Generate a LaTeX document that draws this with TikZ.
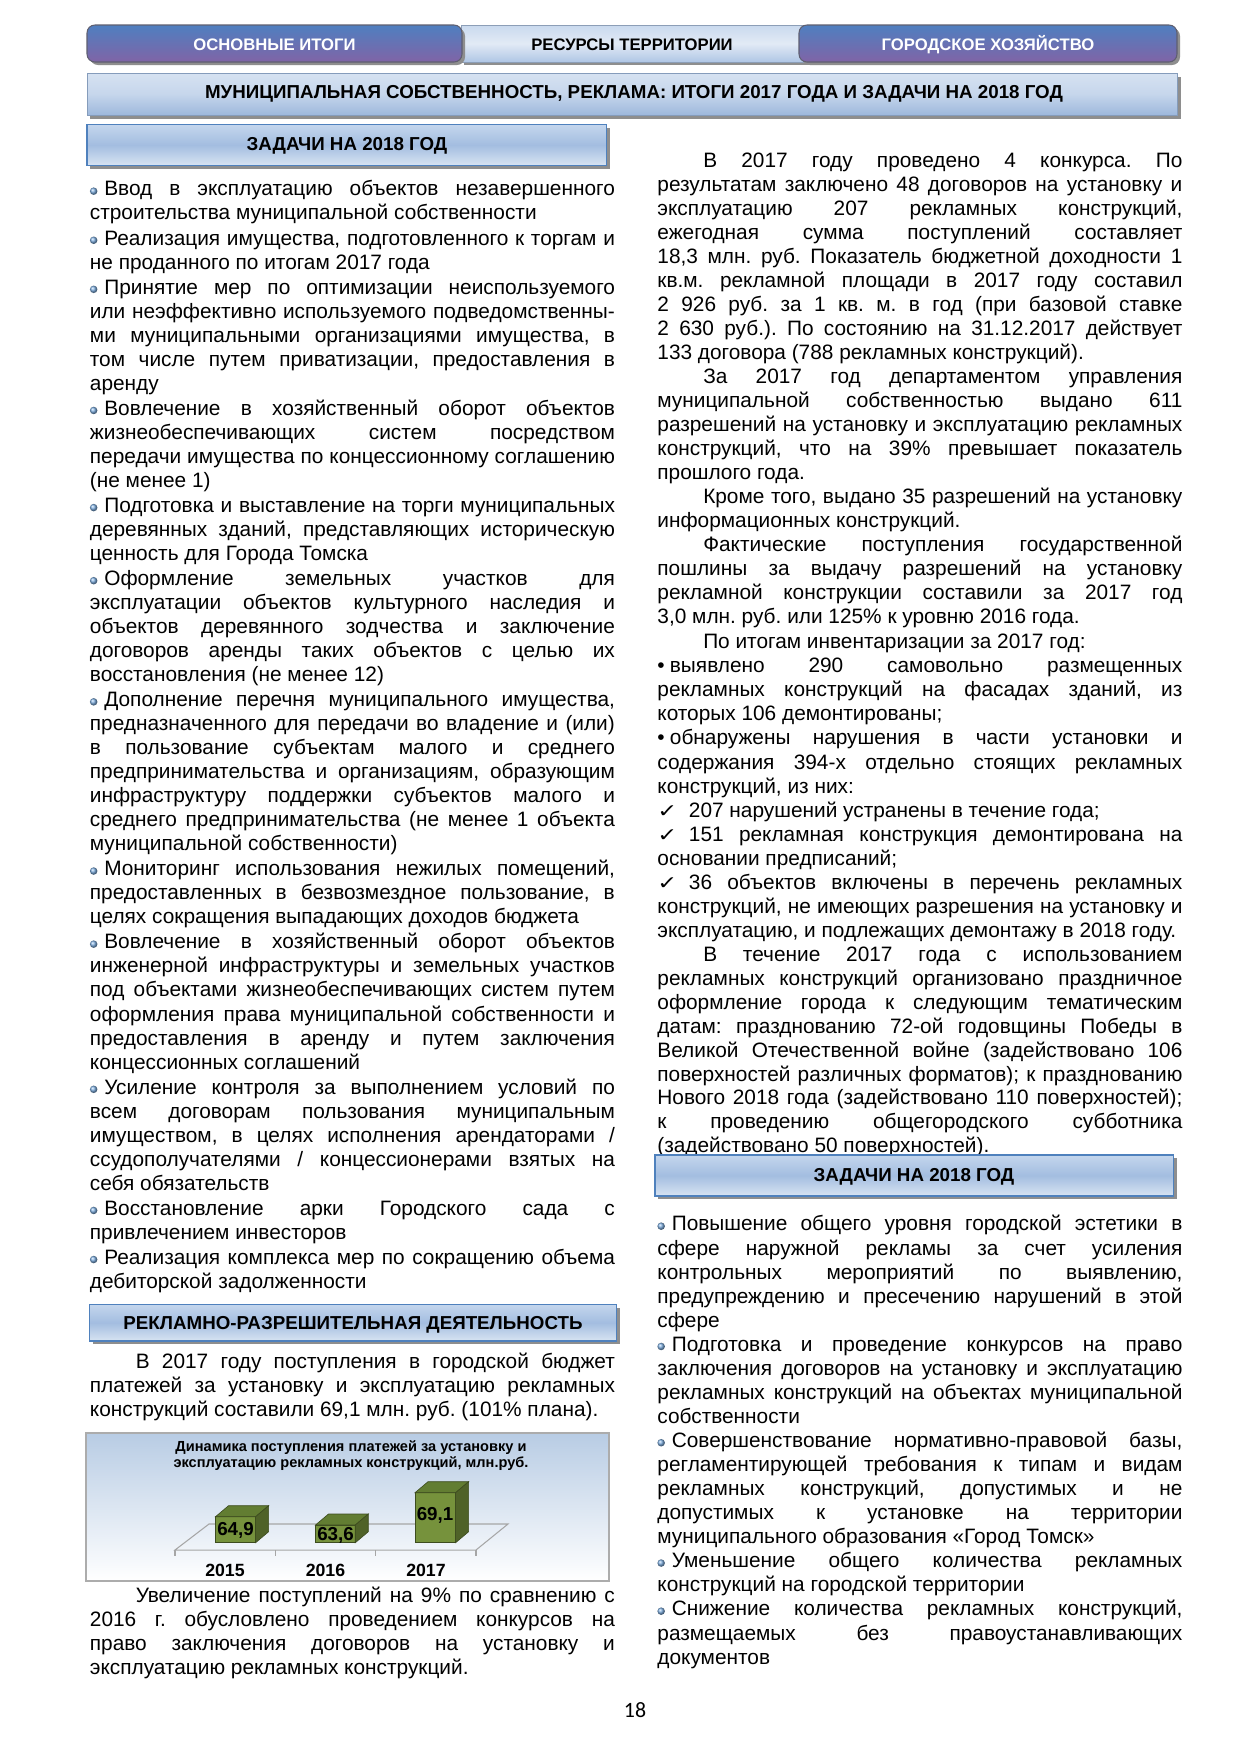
\documentclass[tikz,border=0pt]{standalone}
\usepackage{fontspec}
\usepackage{graphicx}
\setmainfont{Liberation Sans}
\newfontfamily\djv{DejaVu Sans}
\newfontfamily\calfont{Carlito}
\definecolor{tabtop}{HTML}{4F7FC0}
\definecolor{tabbot}{HTML}{8064A6}
\definecolor{tabedge}{HTML}{5F5F70}
\definecolor{shgray}{HTML}{8E8E8E}
\definecolor{lbtop}{HTML}{C9D9EE}
\definecolor{lbmid}{HTML}{E2EAF5}
\definecolor{lbbot}{HTML}{AFC6E5}
\definecolor{tttop}{HTML}{D6E2F1}
\definecolor{ttmid}{HTML}{C6D6EC}
\definecolor{ttbot}{HTML}{9DB8DC}
\definecolor{sbtop}{HTML}{C4D6ED}
\definecolor{sbmid}{HTML}{A3BDE0}
\definecolor{sbbot}{HTML}{D8E4F2}
\definecolor{sbedge}{HTML}{4F81BD}
\definecolor{bulc}{HTML}{7EAEE0}
\definecolor{chtop}{HTML}{B8CCE4}
\definecolor{gfront}{HTML}{76923C}
\definecolor{gtop}{HTML}{627D32}
\definecolor{gside}{HTML}{4F6228}
\definecolor{gedge}{HTML}{3D4C1F}
\newlength\ind
\setlength\ind{22pt}
\newcommand\topstrut{\rule{0pt}{10pt}}
\newcommand\bodyfont[1]{\fontsize{10}{#1}\selectfont\lineskiplimit=-20pt\relax\lineskip=0pt\relax\tolerance=10000\relax\hyphenpenalty=10000\relax\exhyphenpenalty=10000\relax\frenchspacing\spaceskip=0.278em plus 3em minus 0.08em\relax\xspaceskip=\spaceskip\parskip=0pt\relax\parindent=0pt\relax}
\newcommand\bul{\tikz[baseline={(0pt,-2.3pt)}]\shade[ball color=bulc] (0pt,0pt) circle (1.8pt);\hspace{3.3pt}}
\newcommand\rbul{•\hspace{2.5pt}}
\newcommand\chk{\scalebox{1.15}[0.9]{\djv\fontsize{10}{10}\selectfont ✓}\hspace{5.5pt}}
\newcommand\gbar[3]{%
  \filldraw[fill=gfront,draw=gedge,line width=0.3pt] (#1,#3) rectangle (#2,1542.7);
  \filldraw[fill=gtop,draw=gedge,line width=0.3pt] (#1,#3) -- (#2,#3) -- ++(13,-11) -- ++({#1-#2},0) -- cycle;
  \filldraw[fill=gside,draw=gedge,line width=0.3pt] (#2,#3) -- ++(13,-11) -- ++(0,{1542.7-#3}) -- (#2,1542.7) -- cycle;
}
\tikzset{
  txt/.style={anchor=north west, inner sep=0pt, text width=252pt, align=justify},
  tabtxt/.style={inner sep=0pt, font=\bfseries\fontsize{8}{9}\selectfont},
  headtxt/.style={inner sep=0pt, font=\bfseries\fontsize{9}{10}\selectfont},
  subbox/.style={top color=sbtop, bottom color=sbbot, middle color=sbmid, draw=sbedge, line width=0.8pt},
  valtxt/.style={inner sep=0pt, font=\bfseries\fontsize{9}{10}\selectfont},
  yeartxt/.style={inner sep=0pt, font=\bfseries\fontsize{8.5}{10}\selectfont}
}
\begin{document}
\begin{tikzpicture}[x=0.48pt,y=-0.48pt]
\useasboundingbox (0,0) rectangle (1240,1754);
\fill[white] (0,0) rectangle (1240,1754);

% ---------- header tabs ----------
\fill[shgray] (464,28) rectangle (818,65);
\shade[top color=lbtop, bottom color=lbbot, middle color=lbmid, draw=lbbot!80!black, line width=0.4pt] (461,25) rectangle (815,62);
\fill[shgray, rounded corners=3.8pt] (90,28) rectangle (465,65);
\shade[top color=tabtop, bottom color=tabbot, rounded corners=3.8pt, draw=tabedge, line width=0.5pt] (87,25) rectangle (462,62);
\fill[shgray, rounded corners=3.8pt] (802,28) rectangle (1180,65);
\shade[top color=tabtop, bottom color=tabbot, rounded corners=3.8pt, draw=tabedge, line width=0.5pt] (799,25) rectangle (1177,62);
\node[tabtxt, text=white] (tab1) at (274.5,44.5) {ОСНОВНЫЕ ИТОГИ};
\node[tabtxt] (tab2) at (632,44.5) {РЕСУРСЫ ТЕРРИТОРИИ};
\node[tabtxt, text=white] (tab3) at (988,44.5) {ГОРОДСКОЕ ХОЗЯЙСТВО};

% ---------- title bar ----------
\fill[shgray] (90,77) rectangle (1181,119);
\shade[top color=tttop, bottom color=ttbot, middle color=ttmid, draw=ttbot!85!black, line width=0.4pt] (87,73) rectangle (1177,115);
\node[headtxt] (title) at (634,93.5) {МУНИЦИПАЛЬНАЯ СОБСТВЕННОСТЬ, РЕКЛАМА: ИТОГИ 2017 ГОДА И ЗАДАЧИ НА 2018 ГОД};

% ---------- subtitle left ----------
\fill[shgray] (90,128) rectangle (610,169);
\shade[subbox] (87,124.5) rectangle (606.5,165.5);
\node[headtxt] (sub1) at (347,145.5) {ЗАДАЧИ НА 2018 ГОД};

% ---------- left column, tasks ----------
\node[txt] (leftA) at (89.5,174.7) {\bodyfont{11.53pt}\parskip=0.5pt\relax\topstrut\bul Ввод в эксплуатацию объектов незавершенного\linebreak
строительства муниципальной собственности\par
\bul Реализация имущества, подготовленного к торгам и\linebreak
не проданного по итогам 2017 года\par
\bul Принятие мер по оптимизации неиспользуемого\linebreak
или неэффективно используемого подведомственны-\linebreak
ми муниципальными организациями имущества, в\linebreak
том числе путем приватизации, предоставления в\linebreak
аренду\par
\bul Вовлечение в хозяйственный оборот объектов\linebreak
жизнеобеспечивающих систем посредством\linebreak
передачи имущества по концессионному соглашению\linebreak
(не менее 1)\par
\bul Подготовка и выставление на торги муниципальных\linebreak
деревянных зданий, представляющих историческую\linebreak
ценность для Города Томска\par
\bul Оформление земельных участков для\linebreak
эксплуатации объектов культурного наследия и\linebreak
объектов деревянного зодчества и заключение\linebreak
договоров аренды таких объектов с целью их\linebreak
восстановления (не менее 12)\par
\bul Дополнение перечня муниципального имущества,\linebreak
предназначенного для передачи во владение и (или)\linebreak
в пользование субъектам малого и среднего\linebreak
предпринимательства и организациям, образующим\linebreak
инфраструктуру поддержки субъектов малого и\linebreak
среднего предпринимательства (не менее 1 объекта\linebreak
муниципальной собственности)\par
\bul Мониторинг использования нежилых помещений,\linebreak
предоставленных в безвозмездное пользование, в\linebreak
целях сокращения выпадающих доходов бюджета\par
\bul Вовлечение в хозяйственный оборот объектов\linebreak
инженерной инфраструктуры и земельных участков\linebreak
под объектами жизнеобеспечивающих систем путем\linebreak
оформления права муниципальной собственности и\linebreak
предоставления в аренду и путем заключения\linebreak
концессионных соглашений\par
\bul Усиление контроля за выполнением условий по\linebreak
всем договорам пользования муниципальным\linebreak
имуществом, в целях исполнения арендаторами /\linebreak
ссудополучателями / концессионерами взятых на\linebreak
себя обязательств\par
\bul Восстановление арки Городского сада с\linebreak
привлечением инвесторов\par
\bul Реализация комплекса мер по сокращению объема\linebreak
дебиторской задолженности\par};

% ---------- left: advertising section ----------
\fill[shgray] (92.5,1307.5) rectangle (619.5,1344);
\shade[subbox] (89.5,1304.5) rectangle (616.5,1341);
\node[headtxt] (sub3) at (353,1324.5) {РЕКЛАМНО-РАЗРЕШИТЕЛЬНАЯ ДЕЯТЕЛЬНОСТЬ};

\node[txt] (leftB) at (89.5,1347.2) {\bodyfont{11.5pt}\topstrut\hspace*{\ind}В 2017 году поступления в городской бюджет\linebreak
платежей за установку и эксплуатацию рекламных\linebreak
конструкций составили 69,1 млн. руб. (101\% плана).\par};

% ---------- chart ----------
\shade[top color=chtop, bottom color=white] (86,1433) rectangle (609,1581);
\draw[gray!65, line width=0.6pt] (86,1433) rectangle (609,1581);
\node[inner sep=0pt, align=center, font=\bfseries\fontsize{7}{7.4}\selectfont] (ctitle) at (351,1455.5) {Динамика поступления платежей за установку и\\эксплуатацию рекламных конструкций, млн.руб.};
\draw[gray!70, line width=0.5pt] (175,1550) -- (476,1550) -- (508,1524) -- (209,1524) -- cycle;
\foreach \xx in {175,275.3,375.7,476} \draw[gray!70, line width=0.5pt] (\xx,1550) -- (\xx,1556);
\gbar{215.5}{255.6}{1516.7}
\gbar{315.5}{355.3}{1525}
\gbar{415}{455.6}{1492.7}
\node[valtxt] (v15) at (235.5,1530.5) {64,9};
\node[valtxt] (v16) at (335.5,1535) {63,6};
\node[valtxt] (v17) at (435,1515) {69,1};
\node[yeartxt] (y15) at (225,1570) {2015};
\node[yeartxt] (y16) at (325.5,1570) {2016};
\node[yeartxt] (y17) at (426,1570) {2017};

\node[txt] (leftC) at (89.5,1581.7) {\bodyfont{11.45pt}\topstrut\hspace*{\ind}Увеличение поступлений на 9\% по сравнению с\linebreak
2016 г. обусловлено проведением конкурсов на\linebreak
право заключения договоров на установку и\linebreak
эксплуатацию рекламных конструкций.\par};

% ---------- right column ----------
\node[txt] (rightA) at (657,146.4) {\bodyfont{11.52pt}\topstrut\hspace*{\ind}В 2017 году проведено 4 конкурса. По\linebreak
результатам заключено 48 договоров на установку и\linebreak
эксплуатацию 207 рекламных конструкций,\linebreak
ежегодная сумма поступлений составляет\linebreak
18,3 млн. руб. Показатель бюджетной доходности 1\linebreak
кв.м. рекламной площади в 2017 году составил\linebreak
2~926 руб. за 1 кв. м. в год (при базовой ставке\linebreak
2~630 руб.). По состоянию на 31.12.2017 действует\linebreak
133 договора (788 рекламных конструкций).\par
\hspace*{\ind}За 2017 год департаментом управления\linebreak
муниципальной собственностью выдано 611\linebreak
разрешений на установку и эксплуатацию рекламных\linebreak
конструкций, что на 39\% превышает показатель\linebreak
прошлого года.\par
\hspace*{\ind}Кроме того, выдано 35 разрешений на установку\linebreak
информационных конструкций.\par
\hspace*{\ind}Фактические поступления государственной\linebreak
пошлины за выдачу разрешений на установку\linebreak
рекламной конструкции составили за 2017 год\linebreak
3,0 млн. руб. или 125\% к уровню 2016 года.\par};

\node[txt] (rightB) at (657,627.2) {\bodyfont{11.58pt}\topstrut\hspace*{\ind}По итогам инвентаризации за 2017 год:\par
\rbul выявлено 290 самовольно размещенных\linebreak
рекламных конструкций на фасадах зданий, из\linebreak
которых 106 демонтированы;\par
\rbul обнаружены нарушения в части установки и\linebreak
содержания 394-х отдельно стоящих рекламных\linebreak
конструкций, из них:\par
\chk 207 нарушений устранены в течение года;\par
\chk 151 рекламная конструкция демонтирована на\linebreak
основании предписаний;\par
\chk 36 объектов включены в перечень рекламных\linebreak
конструкций, не имеющих разрешения на установку и\linebreak
эксплуатацию, и подлежащих демонтажу в 2018 году.\par};

\node[txt] (rightC) at (657,940.3) {\bodyfont{11.47pt}\topstrut\hspace*{\ind}В течение 2017 года с использованием\linebreak
рекламных конструкций организовано праздничное\linebreak
оформление города к следующим тематическим\linebreak
датам: празднованию 72-ой годовщины Победы в\linebreak
Великой Отечественной войне (задействовано 106\linebreak
поверхностей различных форматов); к празднованию\linebreak
Нового 2018 года (задействовано 110 поверхностей);\linebreak
к проведению общегородского субботника\linebreak
(задействовано 50 поверхностей).\par};

% ---------- subtitle right ----------
\fill[shgray] (658,1158) rectangle (1177,1199);
\shade[subbox] (655,1155) rectangle (1173.5,1196);
\node[headtxt] (sub2) at (914,1176.5) {ЗАДАЧИ НА 2018 ГОД};

\node[txt] (rightD) at (657,1209.7) {\bodyfont{11.55pt}\topstrut\bul Повышение общего уровня городской эстетики в\linebreak
сфере наружной рекламы за счет усиления\linebreak
контрольных мероприятий по выявлению,\linebreak
предупреждению и пресечению нарушений в этой\linebreak
сфере\par
\bul Подготовка и проведение конкурсов на право\linebreak
заключения договоров на установку и эксплуатацию\linebreak
рекламных конструкций на объектах муниципальной\linebreak
собственности\par
\bul Совершенствование нормативно-правовой базы,\linebreak
регламентирующей требования к типам и видам\linebreak
рекламных конструкций, допустимых и не\linebreak
допустимых к установке на территории\linebreak
муниципального образования «Город Томск»\par
\bul Уменьшение общего количества рекламных\linebreak
конструкций на городской территории\par
\bul Снижение количества рекламных конструкций,\linebreak
размещаемых без правоустанавливающих\linebreak
документов\par};

% ---------- page number ----------
\node[inner sep=0pt, font=\calfont\fontsize{10.5}{12}\selectfont] (pagenum) at (635,1710) {18};
\end{tikzpicture}
\end{document}
